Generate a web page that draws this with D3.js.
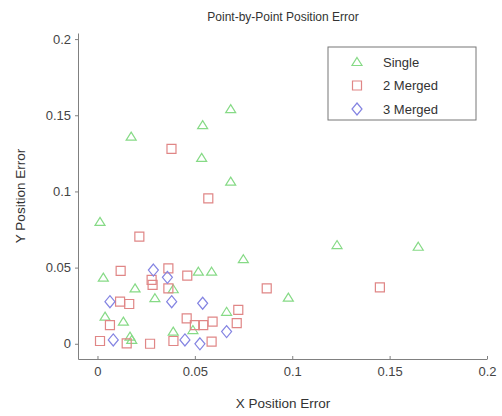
<!DOCTYPE html>
<html>
<head>
<meta charset="utf-8">
<script src="https://cdn.jsdelivr.net/npm/d3@7"></script>
<style>
  body { margin: 0; background: #fff; }
  svg { font-family: "Liberation Sans", Arial, sans-serif; }
  .axis path, .axis line { stroke: #808080; }
  .axis text { fill: #444; font-size: 13px; }
</style>
</head>
<body>
<div id="chart"></div>
<script>
// data
const singleX = [0.0173, 0.054, 0.0684, 0.0535, 0.0684, 0.123, 0.1647, 0.098, 0.0013, 0.003, 0.0193, 0.0295,
  0.0518, 0.0586, 0.0749, 0.0389, 0.0039, 0.0133, 0.0167, 0.0389, 0.0663, 0.0176, 0.049];
const singleY = [0.136, 0.1435, 0.154, 0.122, 0.1064, 0.0648, 0.0637, 0.0303, 0.080, 0.0434, 0.0364, 0.0299,
  0.0473, 0.0473, 0.0555, 0.0358, 0.0178, 0.0145, 0.0047, 0.008, 0.021, 0.0025, 0.009];

const merged2X = [0.038, 0.0569, 0.0215, 0.0119, 0.0364, 0.0461, 0.0869, 0.145, 0.0283, 0.0364, 0.0116, 0.0163,
  0.0723, 0.0715, 0.0458, 0.050, 0.0543, 0.0591, 0.0013, 0.015, 0.027, 0.039, 0.0586, 0.0064, 0.0278];
const merged2Y = [0.128, 0.0955, 0.0703, 0.0478, 0.0495, 0.0447, 0.0364, 0.037, 0.0386, 0.0364, 0.0276, 0.0261,
  0.0222, 0.0135, 0.0167, 0.0123, 0.0123, 0.0145, 0.0018, 0.0003, 0.0, 0.0018, 0.0014, 0.0123, 0.0419];

const merged3X = [0.0064, 0.0381, 0.054, 0.0081, 0.0449, 0.0526, 0.0663, 0.0287, 0.0359];
const merged3Y = [0.0276, 0.0276, 0.0266, 0.0025, 0.0025, 0.0, 0.008, 0.0484, 0.0436];

const seriesNames = ["Single", "2 Merged", "3 Merged"];
const xTicks = [0, 0.05, 0.1, 0.15, 0.2];
const yTicks = [0, 0.05, 0.1, 0.15, 0.2];

const width = 502, height = 416;

// custom marker shapes (matlab-ish)
const triangle = { draw(ctx, s) { ctx.moveTo(0, -4.5); ctx.lineTo(5, 3.5); ctx.lineTo(-5, 3.5); ctx.closePath(); } };
const square = { draw(ctx, s) { ctx.rect(-4.5, -4.5, 9, 9); } };
const diamond = { draw(ctx, s) { ctx.moveTo(0, -6); ctx.lineTo(5, 0); ctx.lineTo(0, 6); ctx.lineTo(-5, 0); ctx.closePath(); } };

const series = [
  { name: seriesNames[0], xs: singleX, ys: singleY, shape: triangle, color: "#86da86" },
  { name: seriesNames[1], xs: merged2X, ys: merged2Y, shape: square, color: "#e08686" },
  { name: seriesNames[2], xs: merged3X, ys: merged3Y, shape: diamond, color: "#8484e2" }
];

const xScale = d3.scaleLinear().domain([-0.01, 0.2]).range([78, 487]);
const yScale = d3.scaleLinear().domain([-0.01, 0.204]).range([359, 33]);

const svg = d3.select("#chart").append("svg")
  .attr("width", width)
  .attr("height", height);

// axes
const fmt = d => d === 0 ? "0" : String(d);
svg.append("g")
  .attr("class", "axis x-axis")
  .attr("transform", "translate(0,359)")
  .call(d3.axisBottom(xScale).tickValues(xTicks).tickFormat(fmt).tickSize(-3).tickSizeOuter(0).tickPadding(8));

svg.append("g")
  .attr("class", "axis y-axis")
  .attr("transform", "translate(78,0)")
  .call(d3.axisLeft(yScale).tickValues(yTicks).tickFormat(fmt).tickSize(3).tickSizeOuter(0).tickPadding(4));

// markers
series.forEach(s => {
  const pts = s.xs.map((x, i) => ({ x: x, y: s.ys[i] }));
  svg.append("g")
    .selectAll("path")
    .data(pts)
    .join("path")
    .attr("transform", d => `translate(${xScale(d.x)},${yScale(d.y)})`)
    .attr("d", d3.symbol().type(s.shape)())
    .attr("fill", "none")
    .attr("stroke", s.color)
    .attr("stroke-width", 1.2);
});

// legend
const legend = svg.append("g").attr("transform", "translate(328,47)");
legend.append("rect")
  .attr("width", 148).attr("height", 73)
  .attr("fill", "#fff").attr("stroke", "#777");
series.forEach((s, i) => {
  const row = legend.append("g").attr("transform", `translate(29,${15 + i * 23.5})`);
  row.append("path")
    .attr("d", d3.symbol().type(s.shape)())
    .attr("fill", "none")
    .attr("stroke", s.color)
    .attr("stroke-width", 1.2);
  row.append("text")
    .attr("x", 26).attr("dy", "0.35em")
    .attr("fill", "#333").attr("font-size", 13)
    .text(s.name);
});

// titles
svg.append("text")
  .attr("x", 283).attr("y", 21)
  .attr("text-anchor", "middle").attr("fill", "#333").attr("font-size", 12)
  .text("Point-by-Point Position Error");

svg.append("text")
  .attr("x", 283).attr("y", 408)
  .attr("text-anchor", "middle").attr("fill", "#333").attr("font-size", 13.5)
  .text("X Position Error");

svg.append("text")
  .attr("transform", "translate(25,196) rotate(-90)")
  .attr("text-anchor", "middle").attr("fill", "#333").attr("font-size", 13.5)
  .text("Y Position Error");
</script>
</body>
</html>
